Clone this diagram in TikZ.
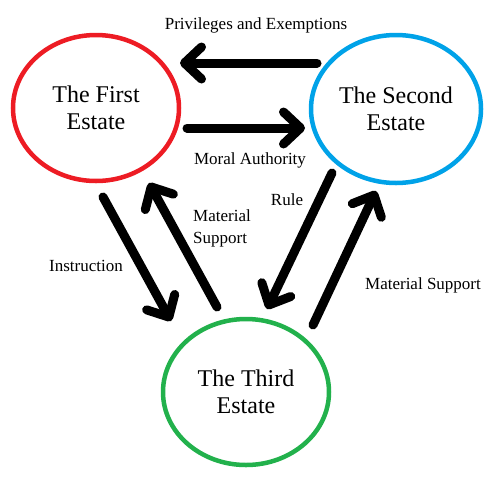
\documentclass[tikz,border=0pt]{standalone}
\usepackage{fontspec}
\setmainfont{Liberation Serif}
\usetikzlibrary{shapes.geometric,arrows.meta}
\definecolor{pred}{RGB}{237,28,36}
\definecolor{pblue}{RGB}{0,162,232}
\definecolor{pgreen}{RGB}{34,177,76}
\begin{document}
\begin{tikzpicture}[x=1pt,y=-1pt,
 estate/.style={ellipse, draw, line width=4.5pt, minimum width=166pt, minimum height=146pt, inner sep=0pt, align=center, font=\fontsize{24}{27}\selectfont},
 flow/.style={line width=9pt, line cap=round, -{Straight Barb[length=17pt,width=32pt,round]}},
 lbl/.style={font=\fontsize{17}{22}\selectfont, inner sep=0pt, align=left}]
\useasboundingbox (0,0) rectangle (500,480);
\node[estate, draw=pred] (first) at (96,108) {The First\\Estate};
\node[estate, draw=pblue, minimum width=170pt, minimum height=148pt] (second) at (396,109) {The Second\\Estate};
\node[estate, draw=pgreen] (third) at (246,392) {The Third\\Estate};
\coordinate (a1s) at (317,63); \coordinate (a1e) at (180,63);
\coordinate (a2s) at (187,128); \coordinate (a2e) at (305,128);
\coordinate (a3s) at (103,197); \coordinate (a3e) at (171,321);
\coordinate (a4s) at (217,307); \coordinate (a4e) at (149,183);
\coordinate (a5s) at (332,173); \coordinate (a5e) at (267,309);
\coordinate (a6s) at (313,325); \coordinate (a6e) at (376,191);
\draw[flow] (a1s) -- (a1e);
\draw[flow] (a2s) -- (a2e);
\draw[flow] (a3s) -- (a3e);
\draw[flow] (a4s) -- (a4e);
\draw[flow] (a5s) -- (a5e);
\draw[flow] (a6s) -- (a6e);
\node[lbl] (l1) at (256,25) {Privileges and Exemptions};
\node[lbl] (l2) at (250,160) {Moral Authority};
\node[lbl] (l3) at (86,266) {Instruction};
\node[lbl, anchor=west] (l4) at (193,228) {Material\\Support};
\node[lbl] (l5) at (287,200) {Rule};
\node[lbl] (l6) at (423,285) {Material Support};
\end{tikzpicture}
\end{document}
